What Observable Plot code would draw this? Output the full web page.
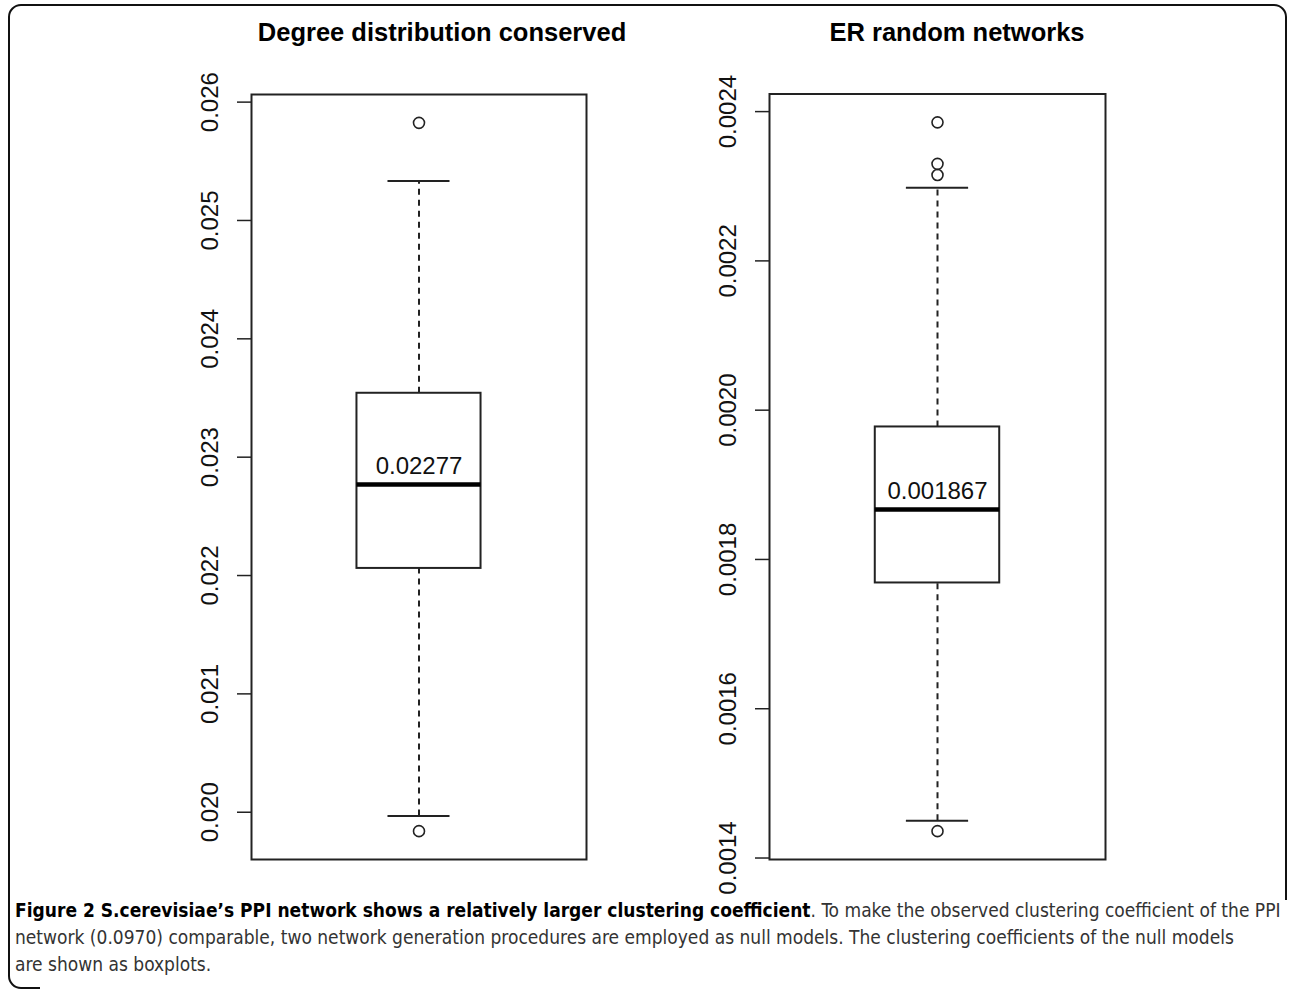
<!DOCTYPE html>
<html>
<head>
<meta charset="utf-8">
<script src="https://cdn.jsdelivr.net/npm/d3@7"></script>
<script src="https://cdn.jsdelivr.net/npm/@observablehq/plot@0.6"></script>
<style>
  html, body { margin: 0; padding: 0; background: #fff; }
  body { width: 1290px; height: 991px; position: relative; overflow: hidden; font-family: "Liberation Sans", Arial, sans-serif; }
  .panel { position: absolute; top: 60px; }
  .panel svg { overflow: visible; }
  .title { position: absolute; top: 18px; font: bold 25.5px "Liberation Sans", Arial, sans-serif; color: #000; transform: translateX(-50%); white-space: nowrap; }
  .cap { position: absolute; left: 15px; white-space: nowrap; font-family: "Liberation Sans Narrow", "DejaVu Sans Condensed", "Open Sans", sans-serif; font-size: 19px; color: #333; }
  .cap b { color: #000; }
  #frame { position: absolute; left: 0; top: 0; }
</style>
</head>
<body>
<svg id="frame" width="1290" height="991">
  <path d="M1286 900 V17 A12 12 0 0 0 1274 5 H21 A12 12 0 0 0 9 17 V976 A12 12 0 0 0 21 988 H40" fill="none" stroke="#111" stroke-width="2"/>
</svg>
<div id="t0" class="title" style="left:442px"></div>
<div id="t1" class="title" style="left:957px"></div>
<div id="p0" class="panel" style="left:150px"></div>
<div id="p1" class="panel" style="left:670px"></div>
<div class="cap" style="top:899px"><b>Figure 2 S.cerevisiae’s PPI network shows a relatively larger clustering coefficient</b>. To make the observed clustering coefficient of the PPI</div>
<div class="cap" style="top:926px">network (0.0970) comparable, two network generation procedures are employed as null models. The clustering coefficients of the null models</div>
<div class="cap" style="top:953px">are shown as boxplots.</div>
<script>
// ---- data ----
const panelTitles = ["Degree distribution conserved", "ER random networks"];
const lowerWhiskers = [0.019969, 0.001450];
const q1s = [0.02206, 0.0017685];
const medians = [0.02277, 0.001867];
const q3s = [0.02354, 0.0019775];
const upperWhiskers = [0.025334, 0.002298];
const outliers = [
  [0.025825, 0.019840],
  [0.0023856, 0.002330, 0.002315, 0.001436]
];
const medianLabels = ["0.02277", "0.001867"];
const yTicks = [
  [0.020, 0.021, 0.022, 0.023, 0.024, 0.025, 0.026],
  [0.0014, 0.0016, 0.0018, 0.0020, 0.0022, 0.0024]
];
const tickDecimals = [3, 4];

// ---- layout ----
const layouts = [
  {marginLeft: 101, marginRight: 24, marginTop: 34, marginBottom: 31},
  {marginLeft: 99, marginRight: 25, marginTop: 33.5, marginBottom: 31}
];

panelTitles.forEach((t, i) => {
  document.getElementById("t" + i).textContent = t;
  const vals = [lowerWhiskers[i], upperWhiskers[i], ...outliers[i]];
  const lo = d3.min(vals), hi = d3.max(vals), ext = (hi - lo) * 0.04;
  const pos = 1; // box position (R style)
  const box = [{x1: pos - 0.2, x2: pos + 0.2, y1: q1s[i], y2: q3s[i]}];
  const chart = Plot.plot({
    width: 460,
    height: 830,
    ...layouts[i],
    style: {fontFamily: "Liberation Sans, Arial, sans-serif", color: "#111", background: "transparent", overflow: "visible"},
    x: {domain: [0.46, 1.54], axis: null},
    y: {domain: [lo - ext, hi + ext]},
    marks: [
      Plot.ruleX([pos], {y1: q3s[i], y2: upperWhiskers[i], stroke: "#222", strokeWidth: 2, strokeDasharray: "6,5"}),
      Plot.ruleX([pos], {y1: lowerWhiskers[i], y2: q1s[i], stroke: "#222", strokeWidth: 2, strokeDasharray: "6,5"}),
      Plot.ruleY([upperWhiskers[i], lowerWhiskers[i]], {x1: pos - 0.1, x2: pos + 0.1, stroke: "#222", strokeWidth: 2}),
      Plot.rect(box, {x1: "x1", x2: "x2", y1: "y1", y2: "y2", fill: "white", stroke: "#222", strokeWidth: 2}),
      Plot.ruleY([medians[i]], {x1: pos - 0.2, x2: pos + 0.2, stroke: "#000", strokeWidth: 4.5}),
      Plot.text([medians[i]], {x: pos, y: d => d, text: () => medianLabels[i], dy: -18, fontSize: 24, fill: "#111"}),
      Plot.dot(outliers[i], {x: pos, y: d => d, r: 5.5, stroke: "#222", strokeWidth: 1.6, fill: "none"}),
      Plot.axisY({ticks: yTicks[i], tickSize: 14, tickPadding: 20, tickRotate: -90, fontSize: 24,
                  tickFormat: d => d.toFixed(tickDecimals[i]), label: null, stroke: "#222", strokeWidth: 1.5}),
      Plot.frame({stroke: "#222", strokeWidth: 2})
    ]
  });
  document.getElementById("p" + i).appendChild(chart);
});
</script>
</body>
</html>
